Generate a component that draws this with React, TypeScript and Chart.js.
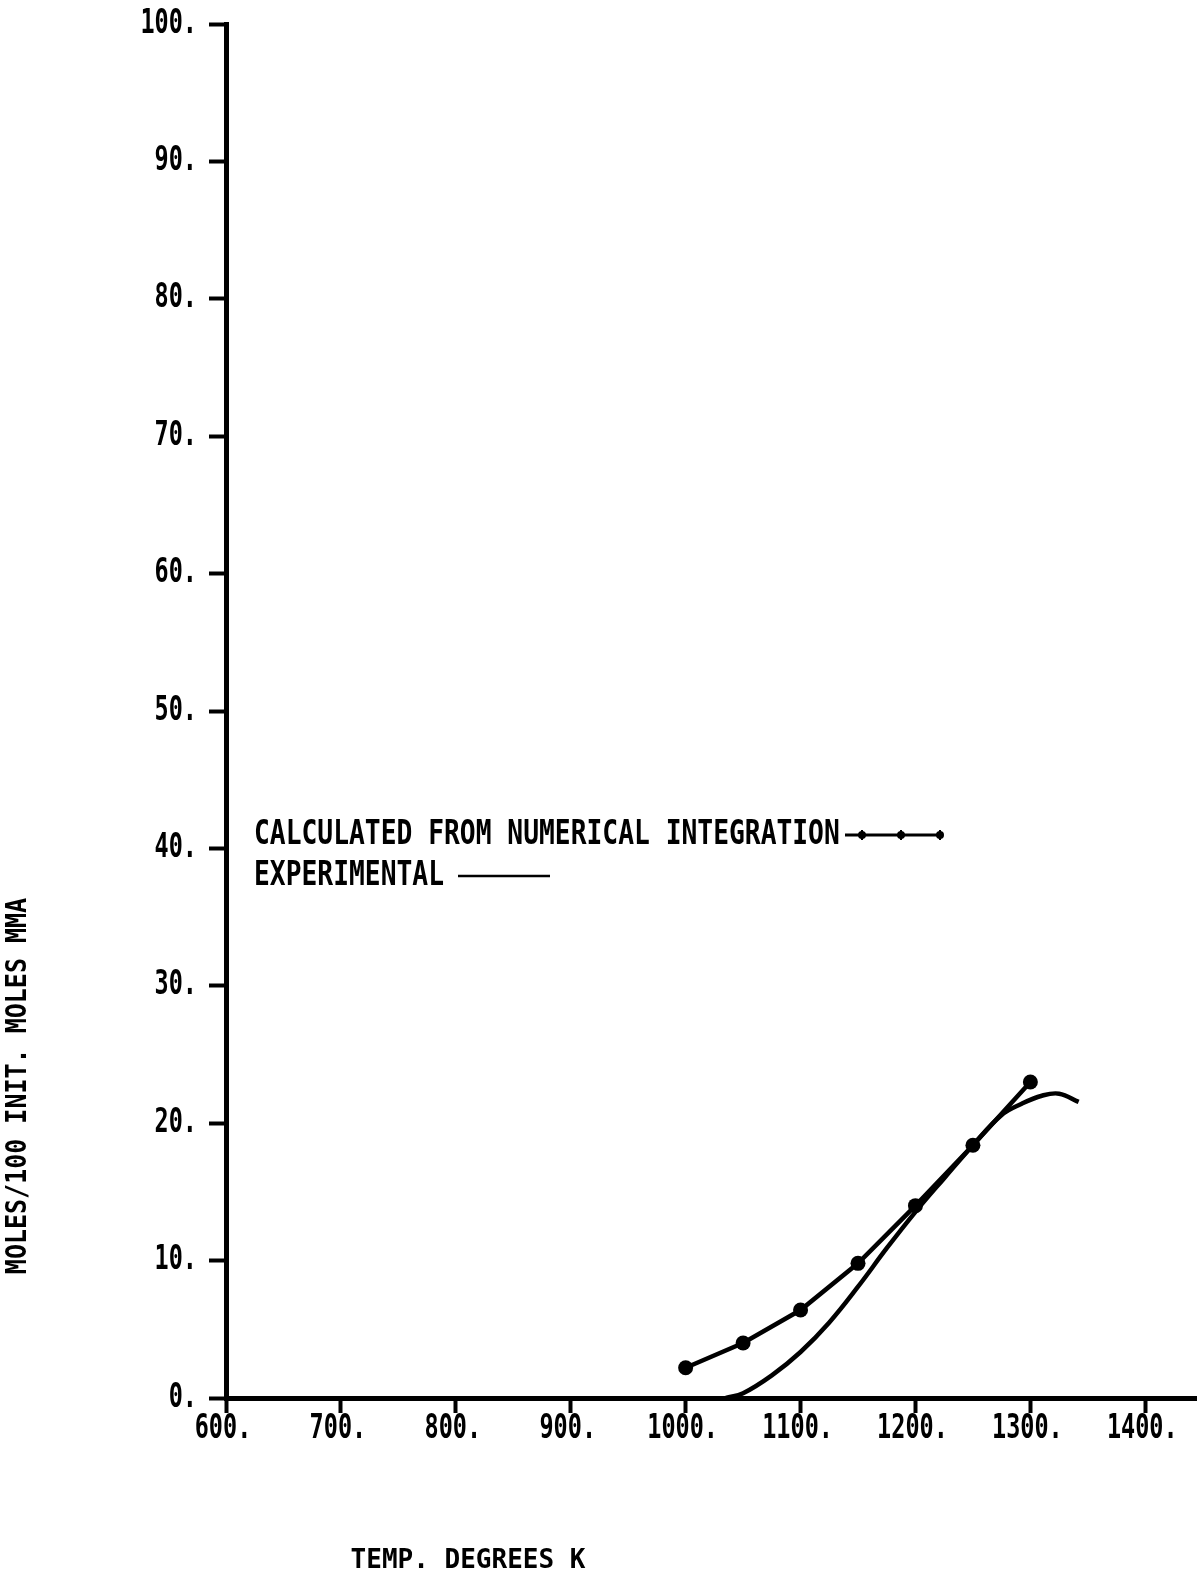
import React, { useEffect, useRef } from "react";
import { Chart, registerables } from "chart.js";

Chart.register(...registerables);

const xTicks = [600, 700, 800, 900, 1000, 1100, 1200, 1300, 1400];
const xTickLabels = ["600.", "700.", "800.", "900.", "1000.", "1100.", "1200.", "1300.", "1400."];
const yTicks = [0, 10, 20, 30, 40, 50, 60, 70, 80, 90, 100];
const yTickLabels = ["0.", "10.", "20.", "30.", "40.", "50.", "60.", "70.", "80.", "90.", "100."];

const calcTemps = [1000, 1050, 1100, 1150, 1200, 1250, 1300];
const calcValues = [2.2, 4.0, 6.4, 9.8, 14.0, 18.4, 23.0];

const expTemps = [1035, 1050, 1075, 1100, 1125, 1150, 1175, 1200, 1225, 1250, 1275, 1292, 1310, 1325, 1342];
const expValues = [0, 0.35, 1.65, 3.35, 5.5, 8.1, 10.9, 13.55, 16.0, 18.4, 20.6, 21.4, 22.0, 22.15, 21.55];

const legendLabels = ["CALCULATED FROM NUMERICAL INTEGRATION", "EXPERIMENTAL"];
const xTitle = "TEMP. DEGREES K";
const yTitle = "MOLES/100 INIT. MOLES MMA";

const FONT = "'DejaVu Sans Mono', 'Liberation Mono', monospace";

function tallText(ctx: any, text: string, x: number, y: number, sy: number) {
  ctx.save();
  ctx.translate(x, y);
  ctx.scale(1, sy);
  ctx.fillText(text, 0, 0);
  ctx.restore();
}

const annotationPlugin = {
  id: "annotations",
  afterDraw(chart: any) {
    const ctx = chart.ctx;
    const xs = chart.scales.x;
    const ys = chart.scales.y;
    ctx.save();
    ctx.fillStyle = "#000";
    ctx.strokeStyle = "#000";
    ctx.textBaseline = "middle";

    // tick labels
    ctx.font = `bold 23.5px ${FONT}`;
    ctx.textAlign = "center";
    xTicks.forEach((v, i) => {
      tallText(ctx, xTickLabels[i], xs.getPixelForValue(v) - 3, 1429, 1.4);
    });
    ctx.textAlign = "right";
    yTicks.forEach((v, i) => {
      tallText(ctx, yTickLabels[i], 197, ys.getPixelForValue(v), 1.4);
    });

    // legend
    ctx.textAlign = "left";
    ctx.font = `bold 26.3px ${FONT}`;
    tallText(ctx, legendLabels[0], 254, 835, 1.25);
    ctx.lineWidth = 3;
    ctx.beginPath();
    ctx.moveTo(845, 835);
    ctx.lineTo(942, 835);
    ctx.stroke();
    [862, 901, 940].forEach((mx) => {
      ctx.beginPath();
      ctx.arc(mx, 835, 4, 0, Math.PI * 2);
      ctx.fill();
      ctx.lineWidth = 2;
      ctx.beginPath();
      ctx.moveTo(mx, 830);
      ctx.lineTo(mx, 840);
      ctx.stroke();
    });
    tallText(ctx, legendLabels[1], 254, 876, 1.25);
    ctx.lineWidth = 2.5;
    ctx.beginPath();
    ctx.moveTo(458, 876);
    ctx.lineTo(550, 876);
    ctx.stroke();

    // x title
    ctx.textAlign = "center";
    ctx.font = `bold 26px ${FONT}`;
    ctx.fillText(xTitle, 468, 1561);

    // y title
    ctx.translate(19, 1086);
    ctx.rotate(-Math.PI / 2);
    ctx.scale(1, 1.12);
    ctx.font = `bold 25px ${FONT}`;
    ctx.fillText(yTitle, 0, 0);
    ctx.restore();
  },
};

export default function App() {
  const ref = useRef<HTMLCanvasElement>(null);
  useEffect(() => {
    if (!ref.current) return;
    const chart = new Chart(ref.current, {
      type: "scatter",
      data: {
        datasets: [
          {
            label: legendLabels[0],
            data: calcTemps.map((t, i) => ({ x: t, y: calcValues[i] })),
            showLine: true,
            borderColor: "#000",
            backgroundColor: "#000",
            borderWidth: 4.5,
            pointRadius: 7.5,
            pointBackgroundColor: "#000",
            pointBorderWidth: 0,
            tension: 0,
          },
          {
            label: legendLabels[1],
            data: expTemps.map((t, i) => ({ x: t, y: expValues[i] })),
            showLine: true,
            borderColor: "#000",
            backgroundColor: "#000",
            borderWidth: 4.5,
            pointRadius: 0,
            tension: 0.4,
          },
        ],
      },
      options: {
        animation: false,
        responsive: false,
        layout: { autoPadding: false, padding: { top: 24, left: 0, right: 0, bottom: 0 } },
        plugins: { legend: { display: false }, tooltip: { enabled: false }, title: { display: false } },
        scales: {
          x: {
            type: "linear",
            min: 600,
            max: 1445,
            afterBuildTicks: (s: any) => {
              s.ticks = xTicks.map((v) => ({ value: v }));
            },
            afterFit: (s: any) => {
              s.height = 182;
              s.paddingLeft = 0;
              s.paddingRight = 0;
            },
            ticks: { display: false, autoSkip: false },
            grid: {
              display: true,
              drawOnChartArea: false,
              drawTicks: true,
              tickLength: 15,
              tickWidth: 4,
              tickColor: "#000",
            },
            border: { display: true, width: 5, color: "#000" },
          },
          y: {
            type: "linear",
            min: 0,
            max: 100,
            afterBuildTicks: (s: any) => {
              s.ticks = yTicks.map((v) => ({ value: v }));
            },
            afterFit: (s: any) => {
              s.width = 226;
              s.paddingTop = 0;
              s.paddingBottom = 0;
            },
            ticks: { display: false, autoSkip: false },
            grid: {
              display: true,
              drawOnChartArea: false,
              drawTicks: true,
              tickLength: 17,
              tickWidth: 4,
              tickColor: "#000",
            },
            border: { display: true, width: 5, color: "#000" },
          },
        },
      },
      plugins: [annotationPlugin],
    });
    return () => chart.destroy();
  }, []);
  return (
    <div style={{ position: "absolute", left: 0, top: 0, width: 1197, height: 1580, background: "#fff" }}>
      <canvas ref={ref} width={1197} height={1580} style={{ display: "block" }} />
    </div>
  );
}
